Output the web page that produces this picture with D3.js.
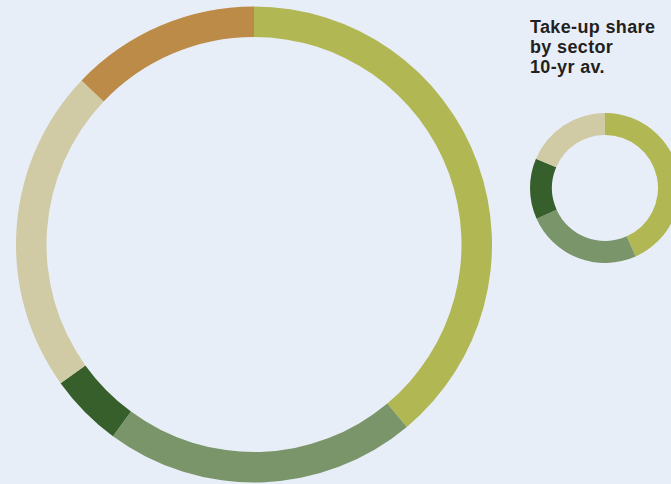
<!DOCTYPE html>
<html>
<head>
<meta charset="utf-8">
<script src="https://cdn.jsdelivr.net/npm/d3@7"></script>
<style>
html,body{margin:0;padding:0;background:#e8eef8;}
svg{display:block;}
</style>
</head>
<body>
<svg id="chart" width="671" height="484"></svg>
<script>
// Data
const sectors = ["Sector A", "Sector B", "Sector C", "Sector D", "Sector E"];
const currentShare = [38.9, 21.2, 5.0, 22.0, 12.9];
const avgShare = [43.3, 25.0, 13.1, 18.6, 0];
const sectorColors = ["#b1b752", "#7a956a", "#375f2b", "#d0caa5", "#bd8b48"];
const titleLines = ["Take-up share", "by sector", "10-yr av."];

const svg = d3.select("#chart");
const W = 671, H = 484;
svg.append("rect").attr("width", W).attr("height", H).attr("fill", "#e8eef8");

const color = d3.scaleOrdinal().domain(sectors).range(sectorColors);
const pie = d3.pie().sort(null).value(d => d.v);

function donut(values, cx, cy, rOuter, rInner) {
  const data = sectors.map((s, i) => ({s, v: values[i]}));
  const arc = d3.arc().innerRadius(rInner).outerRadius(rOuter);
  const g = svg.append("g").attr("transform", `translate(${cx},${cy})`);
  g.selectAll("path").data(pie(data).filter(d => d.data.v > 0)).join("path")
    .attr("d", arc)
    .attr("fill", d => color(d.data.s));
}

donut(currentShare, 254, 244.5, 238, 207.5);
donut(avgShare, 605, 188, 75, 53);

const t = svg.append("text")
  .attr("x", 530).attr("y", 33)
  .attr("font-family", "'Liberation Sans', Arial, Helvetica, sans-serif")
  .attr("font-weight", "bold")
  .attr("font-size", 18)
  .attr("letter-spacing", 0.35)
  .attr("fill", "#231f20");
t.selectAll("tspan").data(titleLines).join("tspan")
  .attr("x", 530)
  .attr("dy", (d, i) => i === 0 ? 0 : 20)
  .text(d => d);
</script>
</body>
</html>
